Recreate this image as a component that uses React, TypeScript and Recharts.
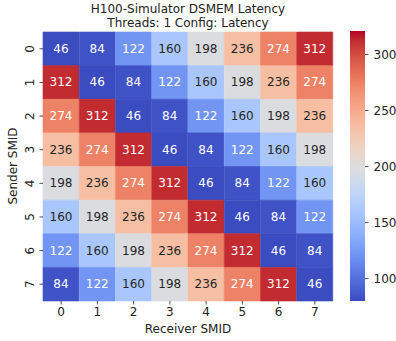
import { Bar, BarChart, Cell, LabelList, XAxis, YAxis } from "recharts";

const receivers = ["0", "1", "2", "3", "4", "5", "6", "7"];
const senders = [0, 1, 2, 3, 4, 5, 6, 7];

// latency per sender row, one value per receiver column
const sender0 = [46, 84, 122, 160, 198, 236, 274, 312];
const sender1 = [312, 46, 84, 122, 160, 198, 236, 274];
const sender2 = [274, 312, 46, 84, 122, 160, 198, 236];
const sender3 = [236, 274, 312, 46, 84, 122, 160, 198];
const sender4 = [198, 236, 274, 312, 46, 84, 122, 160];
const sender5 = [160, 198, 236, 274, 312, 46, 84, 122];
const sender6 = [122, 160, 198, 236, 274, 312, 46, 84];
const sender7 = [84, 122, 160, 198, 236, 274, 312, 46];

const colorbarTicks = [100, 150, 200, 250, 300];
const vmin = 80;
const vmax = 321;

const latency = [sender0, sender1, sender2, sender3, sender4, sender5, sender6, sender7];

// coolwarm, 33 samples
const coolwarm = [
    [59, 76, 192], [68, 90, 204], [77, 104, 215], [87, 117, 225],
    [98, 130, 234], [108, 142, 241], [119, 154, 247], [130, 165, 251],
    [141, 176, 254], [152, 185, 255], [163, 194, 255], [174, 201, 253],
    [184, 208, 249], [194, 213, 244], [204, 217, 238], [213, 219, 230],
    [221, 221, 221], [229, 216, 209], [236, 211, 197], [241, 204, 184],
    [245, 196, 172], [247, 187, 159], [247, 177, 147], [247, 166, 134],
    [244, 154, 123], [241, 141, 111], [236, 127, 99], [229, 112, 88],
    [222, 96, 77], [213, 80, 66], [203, 62, 56], [192, 40, 47],
    [180, 4, 38],
];

const rgbAt = (t: number) => {
    const c = Math.max(0, Math.min(1, t)) * (coolwarm.length - 1);
    const i = Math.min(Math.floor(c), coolwarm.length - 2);
    const f = c - i;
    return coolwarm[i].map((a, k) => Math.round(a + (coolwarm[i + 1][k] - a) * f));
};

const colorOf = (v: number) => {
    const [r, g, b] = rgbAt((v - vmin) / (vmax - vmin));
    return `rgb(${r},${g},${b})`;
};

const textColorOf = (v: number) => {
    const lin = rgbAt((v - vmin) / (vmax - vmin)).map((c) => {
        const s = c / 255;
        return s <= 0.04045 ? s / 12.92 : Math.pow((s + 0.055) / 1.055, 2.4);
    });
    const lum = 0.2126 * lin[0] + 0.7152 * lin[1] + 0.0722 * lin[2];
    return lum > 0.408 ? "#262626" : "#ffffff";
};

const rows = receivers.map((r, j) => {
    const row: Record<string, string | number> = { receiver: r };
    senders.forEach((i) => {
        row[`s${i}`] = 1;
        row[`lat${i}`] = latency[i][j];
    });
    return row;
});

const font = "DejaVu Sans, sans-serif";
const ink = "#222222";

const renderCellLabel = (props: any) => {
    const { x, y, width, height, value } = props;
    return (
        <text
            x={x + width / 2}
            y={y + height / 2}
            textAnchor="middle"
            dominantBaseline="central"
            fontSize={12}
            fontFamily={font}
            fill={textColorOf(Number(value))}
        >
            {value}
        </text>
    );
};

const SenderTick = (props: any) => {
    const { x, y, payload } = props;
    const bx = x - 4;
    return (
        <text
            x={bx}
            y={y}
            textAnchor="middle"
            fontSize={12}
            fontFamily={font}
            fill={ink}
            transform={`rotate(-90, ${bx}, ${y})`}
        >
            {payload.value - 0.5}
        </text>
    );
};

const App = () => {
    return (
        <div style={{ fontFamily: font, color: ink }}>
            <div
                style={{
                    position: "absolute",
                    left: 43,
                    top: 1.5,
                    width: 290,
                    textAlign: "center",
                    fontSize: 12,
                    lineHeight: "14px",
                }}
            >
                H100-Simulator DSMEM Latency
                <br />
                Threads: 1 Config: Latency
            </div>
            <div style={{ position: "absolute", left: 0, top: 0 }}>
                <BarChart
                    width={396}
                    height={341}
                    data={rows}
                    barCategoryGap={0}
                    margin={{ top: 32, right: 63, left: 0, bottom: 0 }}
                >
                    <XAxis
                        dataKey="receiver"
                        height={40}
                        axisLine={false}
                        tickSize={3.5}
                        tickMargin={3}
                        tickLine={{ stroke: ink, strokeWidth: 0.8 }}
                        tick={{ fontSize: 12, fontFamily: font, fill: ink }}
                    />
                    <YAxis
                        type="number"
                        width={43}
                        domain={[0, 8]}
                        reversed
                        ticks={[0.5, 1.5, 2.5, 3.5, 4.5, 5.5, 6.5, 7.5]}
                        axisLine={false}
                        tickSize={3.5}
                        tickLine={{ stroke: ink, strokeWidth: 0.8 }}
                        tick={<SenderTick />}
                        interval={0}
                    />
                    {senders.map((i) => (
                        <Bar
                            key={i}
                            dataKey={`s${i}`}
                            stackId="m"
                            isAnimationActive={false}
                        >
                            {rows.map((d, j) => {
                                const c = colorOf(Number(d[`lat${i}`]));
                                return <Cell key={j} fill={c} stroke={c} strokeWidth={0.6} />;
                            })}
                            <LabelList dataKey={`lat${i}`} content={renderCellLabel} />
                        </Bar>
                    ))}
                </BarChart>
            </div>
            <div style={{ position: "absolute", left: 350, top: 0 }}>
                <BarChart
                    width={61}
                    height={341}
                    data={[{ name: "cb", range: [vmin, vmax] }]}
                    barCategoryGap={0}
                    margin={{ top: 31, right: 0, left: 0, bottom: 40 }}
                >
                    <defs>
                        <linearGradient id="cw" x1="0" y1="1" x2="0" y2="0">
                            {coolwarm.map((c, k) => (
                                <stop
                                    key={k}
                                    offset={k / (coolwarm.length - 1)}
                                    stopColor={`rgb(${c[0]},${c[1]},${c[2]})`}
                                />
                            ))}
                        </linearGradient>
                    </defs>
                    <XAxis dataKey="name" hide />
                    <YAxis
                        type="number"
                        orientation="right"
                        width={46}
                        domain={[vmin, vmax]}
                        ticks={colorbarTicks}
                        axisLine={false}
                        tickSize={3.5}
                        tickMargin={5}
                        tickLine={{ stroke: ink, strokeWidth: 0.8 }}
                        tick={{ fontSize: 12, fontFamily: font, fill: ink }}
                    />
                    <Bar dataKey="range" fill="url(#cw)" isAnimationActive={false} />
                </BarChart>
            </div>
            <div
                style={{
                    position: "absolute",
                    left: 43,
                    top: 322,
                    width: 290,
                    textAlign: "center",
                    fontSize: 12,
                    lineHeight: "14px",
                }}
            >
                Receiver SMID
            </div>
            <div
                style={{
                    position: "absolute",
                    left: -62,
                    top: 159,
                    width: 150,
                    textAlign: "center",
                    fontSize: 12,
                    lineHeight: "14px",
                    transform: "rotate(-90deg)",
                }}
            >
                Sender SMID
            </div>
        </div>
    );
};

export default App;
